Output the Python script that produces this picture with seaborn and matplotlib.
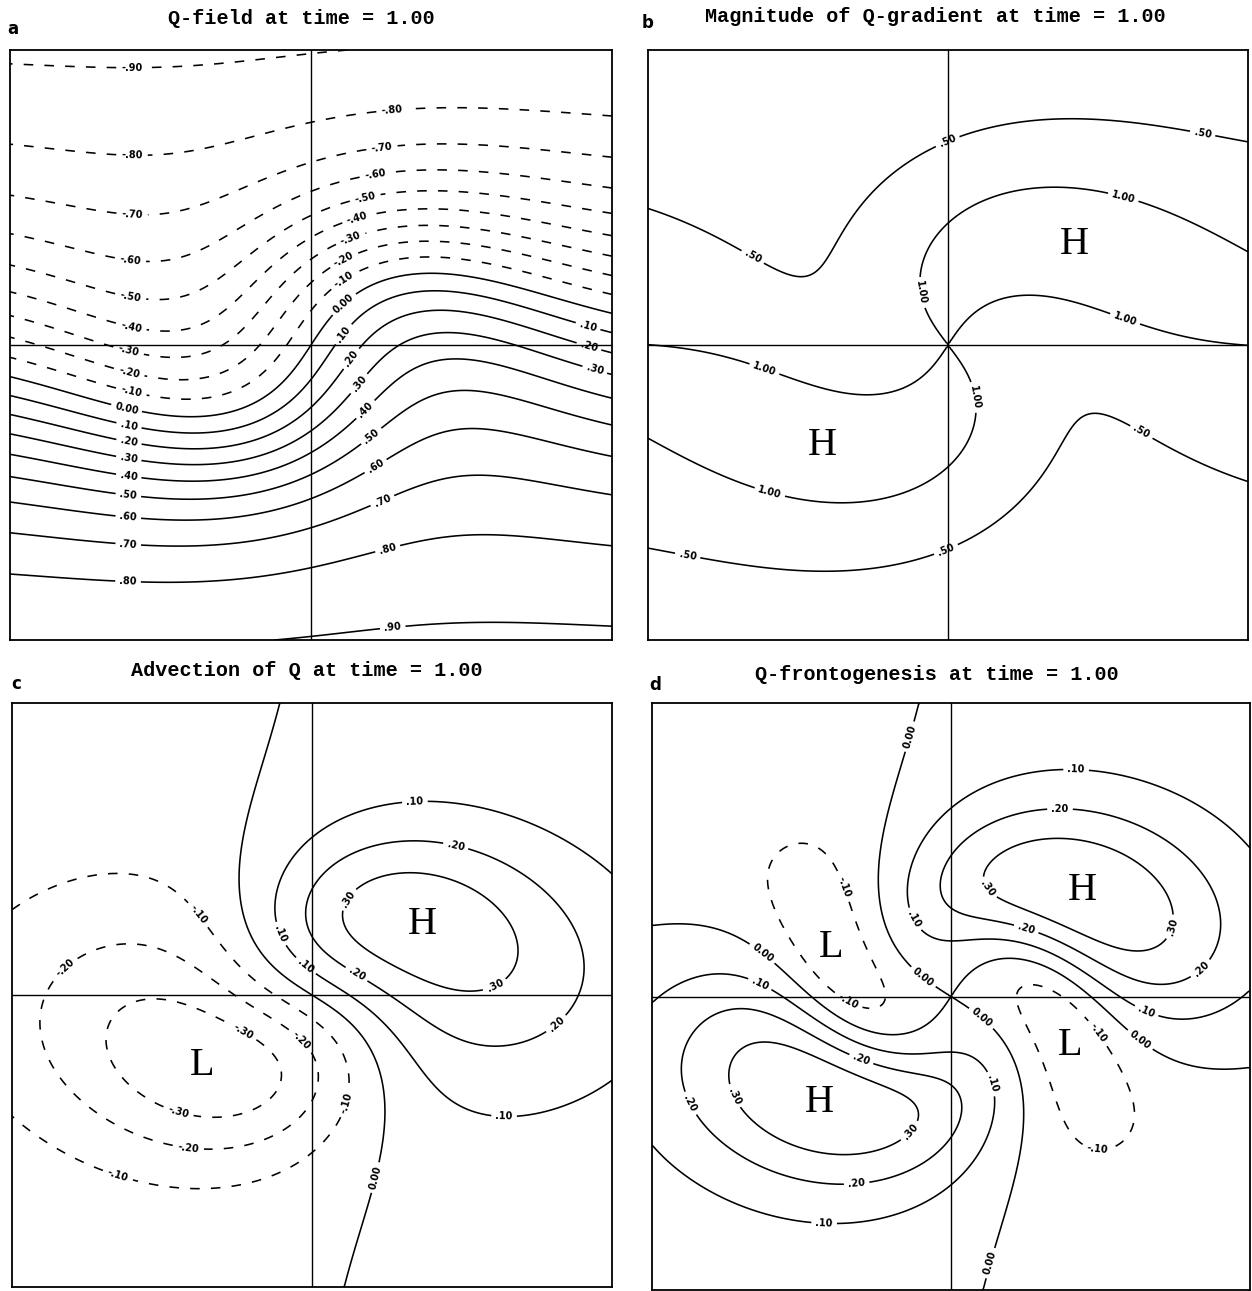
import numpy as np
import matplotlib
matplotlib.use("Agg")
import matplotlib.pyplot as plt
import seaborn as sns

sns.set_theme(style="white")
plt.rcParams['font.family'] = ['Liberation Mono', 'DejaVu Sans Mono']

# ---------------- chart content ----------------
TITLES = ["Q-field at time = 1.00",
          "Magnitude of Q-gradient at time = 1.00",
          "Advection of Q at time = 1.00",
          "Q-frontogenesis at time = 1.00"]
PANEL_LETTERS = ["a", "b", "c", "d"]

LEVELS_Q = [-0.9, -0.8, -0.7, -0.6, -0.5, -0.4, -0.3, -0.2, -0.1,
            0.0, 0.1, 0.2, 0.3, 0.4, 0.5, 0.6, 0.7, 0.8, 0.9]
LEVELS_GRAD = [0.5, 1.0]
LEVELS_ADV = [-0.3, -0.2, -0.1, 0.0, 0.1, 0.2, 0.3]
LEVELS_FRONTO = [-0.1, 0.0, 0.1, 0.2, 0.3]

# kinematic model: a front Q0 = -tanh(y/width)
# rotated by a non-divergent vortex (angular velocity ~ sech^2 tanh / r)
DOMAIN = [-1.5, 1.5]
FRONT_WIDTH = [1.0]
VORTEX_RADIUS = [1.0]
VORTEX_SPIN = [1.0]      # centre angular velocity
TIME = [1.0]
GRID_POINTS = [301]

# H / L markers at field extrema: (text, kind, half-plane sign of x)
HL_MARKS = {
    1: [("H", "max", 1), ("H", "max", -1)],
    2: [("H", "max", 0), ("L", "min", 0)],
    3: [("H", "max", 1), ("H", "max", -1), ("L", "min", -1), ("L", "min", 1)],
}

# ---------------- fields ----------------
n = GRID_POINTS[0]
xs = np.linspace(DOMAIN[0], DOMAIN[1], n)
ys = np.linspace(DOMAIN[0], DOMAIN[1], n)
X, Y = np.meshgrid(xs, ys)
d = xs[1] - xs[0]
r = np.hypot(X, Y)
s = r / VORTEX_RADIUS[0]
safe_s = np.where(s > 1e-9, s, 1.0)
prof = np.where(s > 1e-9, np.tanh(safe_s) / np.cosh(safe_s) ** 2 / safe_s, 1.0)
omega = VORTEX_SPIN[0] * prof
phi = omega * TIME[0]
th = np.arctan2(Y, X)
y0 = r * np.sin(th - phi)
Q = -np.tanh(y0 / FRONT_WIDTH[0])

Qy, Qx = np.gradient(Q, d, d)
G = np.hypot(Qx, Qy)
U = -omega * Y
V = omega * X
Uy, Ux = np.gradient(U, d, d)
Vy, Vx = np.gradient(V, d, d)
ADV = -(U * Qx + V * Qy)
FRO = -(Qx ** 2 * Ux + Qx * Qy * (Vx + Uy) + Qy ** 2 * Vy) / G

FIELDS = [Q, G, ADV, FRO]
LEVELS = [LEVELS_Q, LEVELS_GRAD, LEVELS_ADV, LEVELS_FRONTO]


def fmt(v):
    if abs(v) < 1e-9:
        return "0.00"
    txt = f"{v:.2f}"
    if abs(v) < 1:
        txt = txt.replace("0.", ".", 1)
    return txt


# ---------------- layout (pixels) ----------------
W, H = 1252, 1291
BOXES = [(10, 50, 612, 640), (648, 50, 1248, 640),
         (12, 703, 612, 1287), (652, 703, 1250, 1290)]
TITLE_POS = [(301, 18), (935, 16), (307, 671), (937, 674)]
LETTER_POS = [(13, 29), (648, 23), (16, 684), (655, 685)]
LABEL_PIX = [
    [(132, 71), (132, 156), (132, 217), (130, 263), (130, 300), (130, 332),
     (127, 357), (128, 377), (130, 397), (125, 415), (128, 430), (128, 447),
     (128, 463), (128, 481), (128, 498), (128, 520), (128, 548), (128, 583),
     (392, 110), (382, 148), (375, 174), (365, 197), (357, 217), (350, 237),
     (343, 258), (342, 277), (342, 302), (342, 333), (587, 330), (353, 360),
     (587, 353), (363, 387), (593, 376), (368, 412), (372, 437), (378, 470),
     (383, 502), (388, 550), (393, 630)],
    [(947, 140), (1202, 137), (751, 260), (1122, 202), (919, 293),
     (1124, 322), (763, 373), (970, 398), (769, 495), (1138, 438),
     (947, 552), (687, 559)],
    [(415, 804), (455, 849), (354, 903), (198, 915), (273, 937), (304, 968),
     (356, 975), (65, 968), (496, 988), (241, 1035), (300, 1042), (559, 1027),
     (348, 1103), (178, 1113), (504, 1122), (188, 1150), (117, 1178),
     (377, 1178)],
    [(911, 737), (1076, 774), (1060, 813), (988, 888), (841, 888), (913, 920),
     (1025, 933), (1171, 927), (761, 955), (1202, 970), (757, 990),
     (847, 1003), (919, 982), (978, 1022), (1093, 1037), (1144, 1017),
     (1136, 1045), (859, 1065), (988, 1085), (732, 1097), (687, 1105),
     (911, 1132), (1097, 1153), (857, 1188), (824, 1227), (990, 1263)],
]

fig = plt.figure(figsize=(W / 100, H / 100), dpi=100)

for i, (x0, yt, x1, yb) in enumerate(BOXES):
    ax = fig.add_axes([x0 / W, 1 - yb / H, (x1 - x0) / W, (yb - yt) / H])
    F = FIELDS[i]
    lev = LEVELS[i]
    styles = [(0, (6, 7)) if v < -1e-9 else "solid" for v in lev]
    cs = ax.contour(X, Y, F, levels=lev, colors="black",
                    linewidths=1.15, linestyles=styles)
    span = DOMAIN[1] - DOMAIN[0]
    manual = [(DOMAIN[0] + (px - x0) / (x1 - x0) * span,
               DOMAIN[1] - (py - yt) / (yb - yt) * span)
              for px, py in LABEL_PIX[i]]
    lbls = ax.clabel(cs, inline=True, fmt=fmt, fontsize=7,
                     inline_spacing=4, manual=manual)
    for t in lbls:
        t.set_family("DejaVu Sans")
        t.set_fontweight("bold")
    ax.axhline(0, color="black", lw=1.0)
    ax.axvline(0, color="black", lw=1.0)
    for kind_lbl, kind, side in HL_MARKS.get(i, []):
        mask = np.ones_like(F, dtype=bool)
        if side != 0:
            mask = (X * side) > 0
        vals = np.where(mask, F, np.nan)
        idx = np.nanargmax(vals) if kind == "max" else np.nanargmin(vals)
        iy, ix = np.unravel_index(idx, F.shape)
        ax.text(X[iy, ix], Y[iy, ix], kind_lbl, ha="center", va="center",
                fontsize=29, family="Liberation Serif", color="black")
    ax.set_xlim(DOMAIN)
    ax.set_ylim(DOMAIN)
    ax.set_xticks([])
    ax.set_yticks([])
    for sp in ax.spines.values():
        sp.set_visible(True)
        sp.set_color("black")
        sp.set_linewidth(1.3)
    tx, ty = TITLE_POS[i]
    fig.text(tx / W, 1 - ty / H, TITLES[i], ha="center", va="center",
             fontsize=14.5, fontweight="bold", color="black")
    lx, ly = LETTER_POS[i]
    fig.text(lx / W, 1 - ly / H, PANEL_LETTERS[i], ha="center", va="center",
             fontsize=12, fontweight="bold", family="DejaVu Sans", color="black")

fig.savefig("out.png", dpi=100, facecolor="white")
